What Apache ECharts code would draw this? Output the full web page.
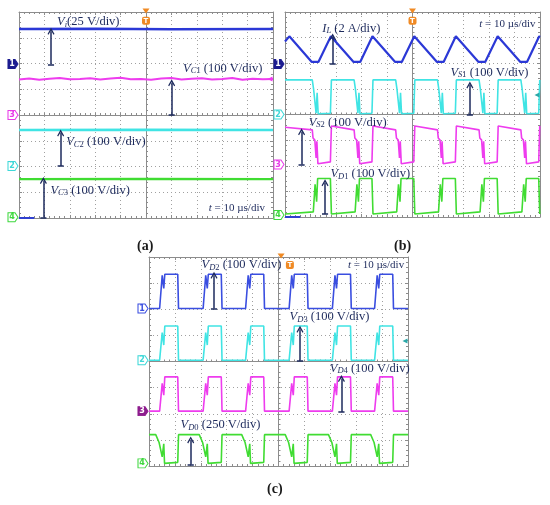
<!DOCTYPE html>
<html>
<head>
<meta charset="utf-8">
<script src="https://cdn.jsdelivr.net/npm/echarts@6/dist/echarts.min.js"></script>
<style>
  html, body { margin: 0; padding: 0; background: #fff; }
  #main { width: 550px; height: 505px; }
</style>
</head>
<body>
<div id="main"></div>
<script>
// all values are in scope divisions: x 0..10 (10 us/div), y 0..8 (bottom = 0)

// ---- panel (a): Vi, VC1, VC2, VC3
var viData = [[0, 7.34], [3, 7.35], [6, 7.33], [10, 7.34]];
var vc1Data = [[0, 5.38], [0.4, 5.42], [0.8, 5.37], [1.2, 5.41], [1.6, 5.44], [2.0, 5.39], [2.4, 5.4],
  [2.8, 5.43], [3.2, 5.38], [3.6, 5.42], [4.0, 5.45], [4.4, 5.39], [4.8, 5.4], [5.2, 5.37], [5.6, 5.42],
  [6.0, 5.44], [6.4, 5.38], [6.8, 5.41], [7.2, 5.43], [7.6, 5.38], [8.0, 5.4], [8.4, 5.44], [8.8, 5.37],
  [9.2, 5.41], [9.6, 5.39], [10, 5.4]];
var vc2Data = [[0, 3.42], [5, 3.43], [10, 3.42]];
var vc3Data = [[0, 1.51], [5, 1.52], [10, 1.51]];

// ---- panel (b): IL, VS1, VS2, VD1
var ilData = [[0, 6.85], [0.17, 7.05], [1.05, 6.05], [1.31, 6.05], [1.80, 7.05], [2.69, 6.05], [2.95, 6.05],
  [3.43, 7.05], [4.32, 6.05], [4.58, 6.05], [5.07, 7.05], [5.96, 6.05], [6.22, 6.05], [6.70, 7.05],
  [7.59, 6.05], [7.85, 6.05], [8.34, 7.05], [9.23, 6.05], [9.49, 6.05], [9.97, 7.05], [10, 7.03]];
var vs1Data = [[0, 5.35],
  [1.07, 5.35], [1.12, 5.0], [1.22, 4.05], [1.26, 4.85], [1.30, 4.03], [1.78, 4.05], [1.82, 5.35],
  [2.71, 5.35], [2.76, 5.0], [2.86, 4.05], [2.90, 4.85], [2.94, 4.03], [3.41, 4.05], [3.45, 5.35],
  [4.34, 5.35], [4.39, 5.0], [4.49, 4.05], [4.53, 4.85], [4.57, 4.03], [5.05, 4.05], [5.09, 5.35],
  [5.98, 5.35], [6.03, 5.0], [6.13, 4.05], [6.17, 4.85], [6.21, 4.03], [6.68, 4.05], [6.72, 5.35],
  [7.61, 5.35], [7.66, 5.0], [7.76, 4.05], [7.80, 4.85], [7.84, 4.03], [8.32, 4.05], [8.36, 5.35],
  [9.25, 5.35], [9.30, 5.0], [9.40, 4.05], [9.44, 4.85], [9.48, 4.03], [9.95, 4.05], [9.99, 5.35], [10, 5.35]];
var vs2Data = [[0, 3.5],
  [1.07, 3.40], [1.10, 3.08], [1.17, 3.0], [1.22, 2.3], [1.25, 2.95], [1.29, 2.08], [1.78, 2.15], [1.82, 3.55],
  [2.71, 3.40], [2.74, 3.08], [2.81, 3.0], [2.86, 2.3], [2.89, 2.95], [2.93, 2.08], [3.41, 2.15], [3.45, 3.55],
  [4.34, 3.40], [4.37, 3.08], [4.44, 3.0], [4.49, 2.3], [4.52, 2.95], [4.56, 2.08], [5.05, 2.15], [5.09, 3.55],
  [5.98, 3.40], [6.01, 3.08], [6.08, 3.0], [6.13, 2.3], [6.16, 2.95], [6.20, 2.08], [6.68, 2.15], [6.72, 3.55],
  [7.61, 3.40], [7.64, 3.08], [7.71, 3.0], [7.76, 2.3], [7.79, 2.95], [7.83, 2.08], [8.32, 2.15], [8.36, 3.55],
  [9.25, 3.40], [9.28, 3.08], [9.35, 3.0], [9.40, 2.3], [9.43, 2.95], [9.47, 2.08], [9.95, 2.15], [9.99, 3.55], [10, 3.55]];
var vd1Data = [[0, 0.12],
  [1.11, 0.2], [1.18, 1.28], [1.24, 0.6], [1.28, 1.5], [1.78, 1.5], [1.82, 0.12],
  [2.75, 0.2], [2.82, 1.28], [2.88, 0.6], [2.92, 1.5], [3.41, 1.5], [3.45, 0.12],
  [4.38, 0.2], [4.45, 1.28], [4.51, 0.6], [4.55, 1.5], [5.05, 1.5], [5.09, 0.12],
  [6.02, 0.2], [6.09, 1.28], [6.15, 0.6], [6.19, 1.5], [6.68, 1.5], [6.72, 0.12],
  [7.65, 0.2], [7.72, 1.28], [7.78, 0.6], [7.82, 1.5], [8.32, 1.5], [8.36, 0.12],
  [9.29, 0.2], [9.36, 1.28], [9.42, 0.6], [9.46, 1.5], [9.95, 1.5], [9.99, 0.12], [10, 0.12]];

// ---- panel (c): VD2, VD3, VD4, VD0
var vd2Data = [[0, 6.03],
  [0.41, 6.03], [0.51, 7.3], [0.57, 6.8], [0.61, 7.34], [1.11, 7.34], [1.14, 6.03],
  [2.09, 6.03], [2.19, 7.3], [2.25, 6.8], [2.29, 7.34], [2.79, 7.34], [2.82, 6.03],
  [3.73, 6.03], [3.83, 7.3], [3.89, 6.8], [3.93, 7.34], [4.43, 7.34], [4.46, 6.03],
  [5.41, 6.03], [5.51, 7.3], [5.57, 6.8], [5.61, 7.34], [6.11, 7.34], [6.14, 6.03],
  [7.08, 6.03], [7.18, 7.3], [7.24, 6.8], [7.28, 7.34], [7.78, 7.34], [7.81, 6.03],
  [8.71, 6.03], [8.81, 7.3], [8.87, 6.8], [8.91, 7.34], [9.41, 7.34], [9.44, 6.03], [10, 6.03]];
var vd3Data = [[0, 4.05],
  [0.41, 4.05], [0.51, 5.11], [0.57, 4.63], [0.61, 5.36], [1.11, 5.36], [1.14, 4.05],
  [2.09, 4.05], [2.19, 5.11], [2.25, 4.63], [2.29, 5.36], [2.79, 5.36], [2.82, 4.05],
  [3.73, 4.05], [3.83, 5.11], [3.89, 4.63], [3.93, 5.36], [4.43, 5.36], [4.46, 4.05],
  [5.41, 4.05], [5.51, 5.11], [5.57, 4.63], [5.61, 5.36], [6.11, 5.36], [6.14, 4.05],
  [7.08, 4.05], [7.18, 5.11], [7.24, 4.63], [7.28, 5.36], [7.78, 5.36], [7.81, 4.05],
  [8.71, 4.05], [8.81, 5.11], [8.87, 4.63], [8.91, 5.36], [9.41, 5.36], [9.44, 4.05], [10, 4.05]];
var vd4Data = [[0, 2.1],
  [0.41, 2.1], [0.51, 3.16], [0.57, 2.71], [0.61, 3.41], [1.11, 3.41], [1.14, 2.1],
  [2.09, 2.1], [2.19, 3.16], [2.25, 2.71], [2.29, 3.41], [2.79, 3.41], [2.82, 2.1],
  [3.73, 2.1], [3.83, 3.16], [3.89, 2.71], [3.93, 3.41], [4.43, 3.41], [4.46, 2.1],
  [5.41, 2.1], [5.51, 3.16], [5.57, 2.71], [5.61, 3.41], [6.11, 3.41], [6.14, 2.1],
  [7.08, 2.1], [7.18, 3.16], [7.24, 2.71], [7.28, 3.41], [7.78, 3.41], [7.81, 2.1],
  [8.71, 2.1], [8.81, 3.16], [8.87, 2.71], [8.91, 3.41], [9.41, 3.41], [9.44, 2.1], [10, 2.1]];
var vd0Data = [[0, 1.2],
  [0.26, 1.2], [0.39, 0.9], [0.51, 0.35], [0.57, 0.85], [0.60, 0.1], [1.11, 0.14], [1.14, 1.2],
  [1.94, 1.2], [2.07, 0.9], [2.19, 0.35], [2.25, 0.85], [2.28, 0.1], [2.79, 0.14], [2.82, 1.2],
  [3.58, 1.2], [3.71, 0.9], [3.83, 0.35], [3.89, 0.85], [3.92, 0.1], [4.43, 0.14], [4.46, 1.2],
  [5.26, 1.2], [5.39, 0.9], [5.51, 0.35], [5.57, 0.85], [5.60, 0.1], [6.11, 0.14], [6.14, 1.2],
  [6.93, 1.2], [7.06, 0.9], [7.18, 0.35], [7.24, 0.85], [7.27, 0.1], [7.78, 0.14], [7.81, 1.2],
  [8.56, 1.2], [8.69, 0.9], [8.81, 0.35], [8.87, 0.85], [8.90, 0.1], [9.41, 0.14], [9.44, 1.2], [10, 1.2]];

// scale arrows: [x, from, to]
var arrowsA = [[1.26, 5.97, 7.25], [6.01, 4.0, 5.25], [1.64, 2.02, 3.3], [0.96, 0.02, 1.46]];
var arrowsB = [[1.87, 5.97, 7.02], [7.25, 3.98, 5.15], [0.65, 2.05, 3.33], [1.57, 0.12, 1.34]];
var arrowsC = [[2.51, 6.03, 7.3], [5.83, 4.03, 5.23], [7.43, 2.07, 3.35], [1.61, 0.06, 1.0]];

// annotation texts: [symbol, italic sub, upright sub, rest]
var textsA = [['V', 'i', '', '(25 V/div)'], ['V', 'C', '1', ' (100 V/div)'], ['V', 'C', '2', ' (100 V/div)'],
  ['V', 'C', '3', ' (100 V/div)']];
var textPosA = [[1.48, 7.62], [6.44, 5.81], [1.84, 2.96], [1.22, 1.06]];
var textsB = [['I', 'L', '', ' (2 A/div)'], ['V', 'S', '1', ' (100 V/div)'],
  ['V', 'S', '2', ' (100 V/div)'], ['V', 'D', '1', ' (100 V/div)']];
var textPosB = [[1.44, 7.36], [6.47, 5.63], [0.91, 3.68], [1.76, 1.68]];
var textsC = [['V', 'D', '2', ' (100 V/div)'], ['V', 'D', '3', ' (100 V/div)'],
  ['V', 'D', '4', ' (100 V/div)'], ['V', 'D', '0', ' (250 V/div)']];
var textPosC = [[2.01, 7.69], [5.41, 5.71], [6.96, 3.74], [1.2, 1.57]];
var timeText = ' = 10 \u00b5s/div';
var timePos = [[7.45, 0.38], [7.6, 7.53], [7.66, 7.69]];

// channel ground markers: [number, level, filled]
var chanA = [['1', 5.98, true], ['3', 4.0, false], ['2', 2.02, false], ['4', 0.03, false]];
var chanB = [['1', 5.97, true], ['2', 4.0, false], ['3', 2.05, false], ['4', 0.08, false]];
var chanC = [['1', 6.03, false], ['2', 4.05, false], ['3', 2.1, true], ['4', 0.1, false]];
var chanColA = ['#1c1c90', '#e83ae8', '#3ed8d8', '#3ed83e'];
var chanColB = ['#1c1c90', '#3ed8d8', '#e83ae8', '#3ed83e'];
var chanColC = ['#3a4ee0', '#3ed8d8', '#8e1d8e', '#3ed83e'];

var NAVY = '#1d2a5c';
var SERIF = 'Liberation Serif';
var GRID_COL = '#8c8c8c';
var BLUE = '#2b38d6', MAG = '#ee3cee', CYAN = '#40e4e4', GREEN = '#40dc32';
var ARROW = 'path://M5,0 L10,8 L8.6,9 L5,3.5 L1.4,9 L0,8 Z';
var TAG = 'path://M0,0 L7,0 L10,5 L7,10 L0,10 Z';

var grids = [
  {left: 19, top: 12, width: 254, height: 206},
  {left: 285, top: 12, width: 255, height: 205},
  {left: 149, top: 257, width: 259, height: 209}
];

var rich = {
  v: {fontFamily: SERIF, fontStyle: 'italic', fontSize: 12.5, color: NAVY, lineHeight: 14},
  s: {fontFamily: SERIF, fontStyle: 'italic', fontSize: 8.5, color: NAVY, lineHeight: 5, verticalAlign: 'bottom'},
  n: {fontFamily: SERIF, fontSize: 8.5, color: NAVY, lineHeight: 5, verticalAlign: 'bottom'},
  t: {fontFamily: SERIF, fontSize: 12.5, color: NAVY, lineHeight: 14},
  tv: {fontFamily: SERIF, fontStyle: 'italic', fontSize: 11, color: NAVY},
  tt: {fontFamily: SERIF, fontSize: 11, color: NAVY}
};

function richLabel(p) {
  return '{v|' + p[0] + '}' + (p[1] ? '{s|' + p[1] + '}' : '') + (p[2] ? '{n|' + p[2] + '}' : '') + '{t|' + p[3] + '}';
}

var xAxes = [], yAxes = [];
grids.forEach(function (g, i) {
  var line = {show: true, onZero: false, lineStyle: {color: GRID_COL, width: 1}};
  var tick = {show: true, inside: true, length: 3, lineStyle: {color: GRID_COL}};
  var minor = {show: true, splitNumber: 5, length: 2, lineStyle: {color: GRID_COL}};
  var split = {show: true, lineStyle: {color: '#a0a0a0', type: [1, 3], width: 1}};
  // border (bottom/top), center line
  xAxes.push({gridIndex: i, type: 'value', min: 0, max: 10, interval: 1, position: 'bottom', axisLine: line,
    axisTick: tick, minorTick: minor, axisLabel: {show: false}, splitLine: split});
  xAxes.push({gridIndex: i, type: 'value', min: 0, max: 10, interval: 1, position: 'top', axisLine: line,
    axisTick: tick, minorTick: minor, axisLabel: {show: false}, splitLine: {show: false}});
  xAxes.push({gridIndex: i, type: 'value', min: 0, max: 10, interval: 1, position: 'bottom', offset: -g.height / 2,
    axisLine: line, axisTick: {show: true, inside: true, length: 2, lineStyle: {color: GRID_COL}},
    minorTick: minor, axisLabel: {show: false}, splitLine: {show: false}});
  yAxes.push({gridIndex: i, type: 'value', min: 0, max: 8, interval: 1, position: 'left', axisLine: line,
    axisTick: tick, minorTick: minor, axisLabel: {show: false}, splitLine: split});
  yAxes.push({gridIndex: i, type: 'value', min: 0, max: 8, interval: 1, position: 'right', axisLine: line,
    axisTick: tick, minorTick: minor, axisLabel: {show: false}, splitLine: {show: false}});
  yAxes.push({gridIndex: i, type: 'value', min: 0, max: 8, interval: 1, position: 'left', offset: -g.width / 2,
    axisLine: line, axisTick: {show: true, inside: true, length: 2, lineStyle: {color: GRID_COL}},
    minorTick: minor, axisLabel: {show: false}, splitLine: {show: false}});
});

function trace(gi, data, color, width) {
  return {type: 'line', xAxisIndex: 3 * gi, yAxisIndex: 3 * gi, data: data, symbol: 'none',
    lineStyle: {color: color, width: width}, silent: true, z: 3};
}

function textPoint(pos, fmt) {
  return {coord: pos, symbol: 'circle', symbolSize: 1, itemStyle: {color: 'rgba(0,0,0,0)'},
    label: {show: true, position: 'right', distance: 0, formatter: fmt, rich: rich}};
}

// arrows, texts, channel tags and trigger marks for one panel
function notes(gi, arrows, texts, textPos, chans, chanCols, extraPoints, extraLines) {
  var lines = [];
  arrows.forEach(function (a) {
    lines.push([{coord: [a[0], a[1]], symbol: 'none'}, {coord: [a[0], a[2]], symbol: ARROW, symbolSize: [7, 7]}]);
    lines.push([{coord: [a[0] - 0.12, a[1]], symbol: 'none'}, {coord: [a[0] + 0.12, a[1]], symbol: 'none'}]);
  });
  (extraLines || []).forEach(function (l) { lines.push(l); });
  var pts = [];
  texts.forEach(function (t, k) { pts.push(textPoint(textPos[k], richLabel(t))); });
  pts.push(textPoint(timePos[gi], '{tv|t}{tt|' + timeText + '}'));
  chans.forEach(function (c, k) {
    var col = chanCols[k];
    pts.push({coord: [0, c[1]], symbol: TAG, symbolSize: [10, 9], symbolOffset: [-6, 0],
      itemStyle: {color: c[2] ? col : '#ffffff', borderColor: col, borderWidth: 1},
      label: {show: true, position: 'inside', formatter: c[0], color: c[2] ? '#ffffff' : col,
        fontSize: 8, fontWeight: 'bold', fontFamily: 'DejaVu Sans', offset: [-1, 0]}});
  });
  (extraPoints || []).forEach(function (p) { pts.push(p); });
  return {type: 'line', xAxisIndex: 3 * gi, yAxisIndex: 3 * gi, data: [[0, 0]], symbol: 'none',
    lineStyle: {opacity: 0}, silent: true, z: 5,
    markLine: {silent: true, animation: false, label: {show: false},
      lineStyle: {type: 'solid', color: NAVY, width: 1.5}, data: lines},
    markPoint: {silent: true, animation: false, data: pts}};
}

function trig(x, y, xt) {
  return [
    {coord: [xt, 8], symbol: 'triangle', symbolRotate: 180, symbolSize: [7, 5], symbolOffset: [0, -1],
      itemStyle: {color: '#f08a24'}, label: {show: false}},
    {coord: [x, y], symbol: 'roundRect', symbolSize: 8, itemStyle: {color: '#f08a24'},
      label: {show: true, position: 'inside', formatter: 'T', color: '#ffffff', fontSize: 7, fontWeight: 'bold',
        fontFamily: 'DejaVu Sans'}}
  ];
}
function side(v, color) {
  return {coord: [10, v], symbol: 'triangle', symbolRotate: 90, symbolSize: [5, 5], symbolOffset: [-3, 0],
    itemStyle: {color: color}, label: {show: false}};
}
function bar(color) {
  return [{coord: [0, 0], symbol: 'none', lineStyle: {color: color, width: 2}}, {coord: [0.6, 0], symbol: 'none'}];
}

var chart = echarts.init(document.getElementById('main'));
chart.setOption({
  animation: false,
  backgroundColor: '#ffffff',
  title: [
    {text: '(a)', left: 137, top: 239, padding: 0},
    {text: '(b)', left: 394, top: 239, padding: 0},
    {text: '(c)', left: 267, top: 482, padding: 0}
  ].map(function (t) {
    t.textStyle = {fontFamily: SERIF, fontWeight: 'bold', fontSize: 14, color: '#1a1a1a'};
    return t;
  }),
  grid: grids,
  xAxis: xAxes,
  yAxis: yAxes,
  series: [
    trace(0, viData, BLUE, 2.6),
    trace(0, vc1Data, MAG, 2),
    trace(0, vc2Data, CYAN, 2.4),
    trace(0, vc3Data, GREEN, 2.4),
    notes(0, arrowsA, textsA, textPosA, chanA, chanColA,
      trig(5, 7.66, 5).concat([side(5.4, MAG)]), [bar('#3040d0')]),

    trace(1, ilData, BLUE, 2.2),
    trace(1, vs1Data, CYAN, 1.6),
    trace(1, vs2Data, MAG, 1.6),
    trace(1, vd1Data, GREEN, 1.6),
    notes(1, arrowsB, textsB, textPosB, chanB, chanColB,
      trig(5, 7.66, 5).concat([side(4.76, '#2aa8a8')]), [bar('#3040d0')]),

    trace(2, vd2Data, '#3a4ee0', 1.6),
    trace(2, vd3Data, CYAN, 1.6),
    trace(2, vd4Data, MAG, 1.6),
    trace(2, vd0Data, GREEN, 1.6),
    notes(2, arrowsC, textsC, textPosC, chanC, chanColC,
      trig(5.44, 7.69, 5.1).concat([side(4.78, '#2aa8a8')]), [])
  ]
});
</script>
</body>
</html>
